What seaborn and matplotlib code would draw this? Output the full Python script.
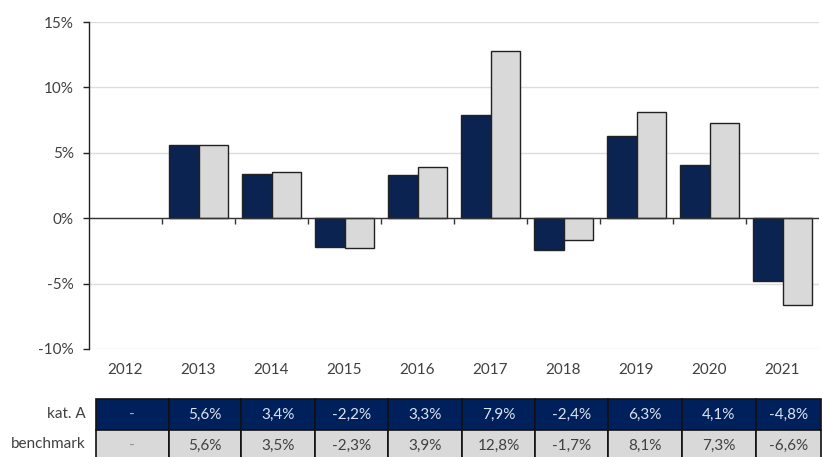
import numpy as np
import pandas as pd
import seaborn as sns
import matplotlib.pyplot as plt

years = ["2012", "2013", "2014", "2015", "2016", "2017", "2018", "2019", "2020", "2021"]
kat_a = [np.nan, 5.6, 3.4, -2.2, 3.3, 7.9, -2.4, 6.3, 4.1, -4.8]
benchmark = [np.nan, 5.6, 3.5, -2.3, 3.9, 12.8, -1.7, 8.1, 7.3, -6.6]
series_names = ["kat. A", "benchmark"]

navy = "#00205B"
lgray = "#D9D9D9"
txt = "#404040"

df = pd.DataFrame({"year": years * 2,
                   "value": kat_a + benchmark,
                   "series": [series_names[0]] * len(years) + [series_names[1]] * len(years)})

sns.set_theme(style="white")
plt.rcParams["font.family"] = ["Lato", "DejaVu Sans"]

W, H = 822, 457
fig = plt.figure(figsize=(W / 100, H / 100), dpi=100)
ax = fig.add_axes([89 / W, 1 - 349 / H, (819 - 89) / W, (349 - 22) / H])

sns.barplot(data=df, x="year", y="value", hue="series", order=years,
            hue_order=series_names, palette=[navy, lgray],
            edgecolor="#222222", linewidth=1.0, ax=ax, legend=False)

ax.set_xlim(-0.5, len(years) - 0.5)
ax.set_ylim(-10, 15)
ax.set_yticks([-10, -5, 0, 5, 10, 15])
ax.set_yticklabels([f"{v}%" for v in [-10, -5, 0, 5, 10, 15]])
ax.yaxis.grid(True, color="#DDDDDD", linewidth=1.0)
ax.set_axisbelow(True)
ax.set_xlabel("")
ax.set_ylabel("")

for s in ["top", "right", "bottom"]:
    ax.spines[s].set_visible(False)
ax.spines["left"].set_color("#222222")
ax.spines["left"].set_linewidth(1.0)

ax.tick_params(axis="y", which="major", left=True, length=4, width=1, color="#222222",
               labelsize=11, labelcolor=txt, pad=7)
ax.tick_params(axis="x", which="major", length=0, labelsize=11, labelcolor=txt, pad=10)

# zero line with tick marks between categories
ax.axhline(0, color="#333333", linewidth=1.0, zorder=1.5)
sec = ax.secondary_xaxis(0.4)
sec.spines["bottom"].set_visible(False)
sec.set_xticks(np.arange(0.5, len(years) - 0.5, 1.0))
sec.set_xticklabels([])
sec.tick_params(axis="x", length=4, width=1, color="#333333", direction="out")

# table below
tab_ax = fig.add_axes([95.7 / W, 1 - 461 / H, (820.7 - 95.7) / W, 62 / H])
tab_ax.axis("off")
col_px = [73, 72.6, 74, 73, 74, 72.7, 73.3, 73.4, 74, 65]
col_w = [c / sum(col_px) for c in col_px]


def fmt(v):
    if np.isnan(v):
        return "-"
    return f"{v:.1f}%".replace(".", ",")


cell_text = [[fmt(v) for v in kat_a], [fmt(v) for v in benchmark]]
cell_col = [[navy] * len(years), [lgray] * len(years)]
tbl = tab_ax.table(cellText=cell_text, cellColours=cell_col, colWidths=col_w,
                   cellLoc="center", bbox=[0, 0, 1, 1])
tbl.auto_set_font_size(False)
for (r, c), cell in tbl.get_celld().items():
    cell.set_edgecolor("#111111")
    cell.set_linewidth(1.2)
    cell.get_text().set_fontsize(11)
    if r == 0:
        cell.get_text().set_color("#A8B2C8" if cell_text[r][c] == "-" else "#DDE3EE")
    else:
        cell.get_text().set_color("#909090" if cell_text[r][c] == "-" else txt)

fig.text(86 / W, 1 - 414 / H, series_names[0], ha="right", va="center", fontsize=11, color=txt)
fig.text(86 / W, 1 - 444 / H, series_names[1], ha="right", va="center", fontsize=11, color=txt)

fig.savefig("out.png", dpi=100)
